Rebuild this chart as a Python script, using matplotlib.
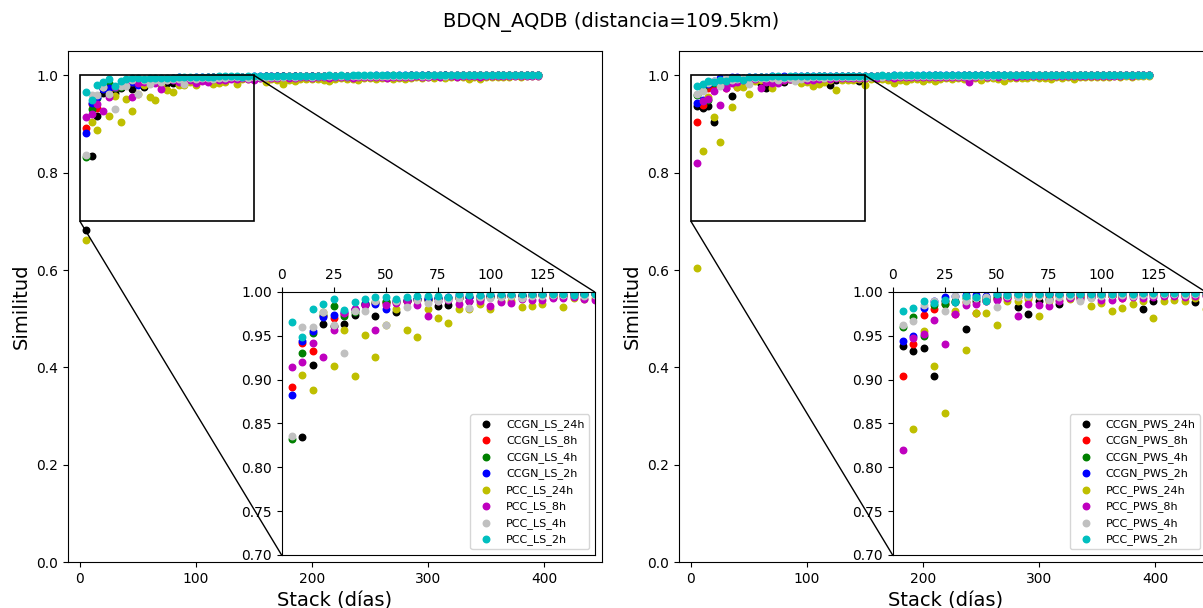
import numpy as np
import matplotlib
matplotlib.use("Agg")
from matplotlib import pyplot as plt
from matplotlib.patches import ConnectionPatch

# stack lengths in days (one point every 5 days)
stack_days = np.arange(5, 400, 5)

colors = ["k", "r", "g", "b", "y", "m", "silver", "c"]
labels_ls = ["CCGN_LS_24h", "CCGN_LS_8h", "CCGN_LS_4h", "CCGN_LS_2h",
             "PCC_LS_24h", "PCC_LS_8h", "PCC_LS_4h", "PCC_LS_2h"]
labels_pws = ["CCGN_PWS_24h", "CCGN_PWS_8h", "CCGN_PWS_4h", "CCGN_PWS_2h",
              "PCC_PWS_24h", "PCC_PWS_8h", "PCC_PWS_4h", "PCC_PWS_2h"]

# ---- LS panel ----
ccgn_ls_24h = [0.682, 0.834, 0.917, 0.963, 0.961, 0.963, 0.974, 0.985, 0.972, 0.988,
               0.977, 0.990, 0.992, 0.991, 0.984, 0.985, 0.993, 0.989, 0.992, 0.994,
               0.994, 0.995, 0.995, 0.995, 0.996, 0.996, 0.996, 0.997, 0.996, 0.997,
               0.997, 0.998, 0.997, 0.998, 0.998, 0.997, 0.998, 0.998, 0.998, 0.999,
               0.998, 0.998, 0.999, 0.998, 0.999, 0.999, 0.998, 0.999, 0.999, 0.999,
               0.999, 0.999, 0.998, 0.999, 0.999, 0.999, 0.999, 0.999, 0.999, 0.999,
               0.999, 0.999, 1.000, 0.999, 0.999, 1.000, 0.999, 1.000, 1.000, 0.999,
               1.000, 1.000, 1.000, 1.000, 1.000, 1.000, 1.000, 1.000, 1.000]
ccgn_ls_8h = [0.891, 0.942, 0.933, 0.973, 0.970, 0.975, 0.980, 0.986, 0.987, 0.987,
              0.988, 0.990, 0.991, 0.992, 0.993, 0.993, 0.993, 0.994, 0.994, 0.995,
              0.995, 0.995, 0.996, 0.996, 0.996, 0.994, 0.996, 0.995, 0.997, 0.997,
              0.997, 0.997, 0.998, 0.997, 0.998, 0.998, 0.998, 0.997, 0.998, 0.998,
              0.998, 0.999, 0.998, 0.998, 0.999, 0.999, 0.999, 0.998, 0.999, 0.999,
              0.999, 0.999, 0.999, 0.999, 0.999, 0.999, 1.000, 0.999, 0.999, 1.000,
              0.999, 1.000, 1.000, 0.999, 1.000, 1.000, 1.000, 1.000, 1.000, 1.000,
              1.000, 1.000, 1.000, 1.000, 1.000, 1.000, 1.000, 1.000, 1.000]
ccgn_ls_4h = [0.832, 0.930, 0.953, 0.974, 0.984, 0.973, 0.977, 0.987, 0.988, 0.989,
              0.990, 0.991, 0.992, 0.992, 0.993, 0.993, 0.994, 0.994, 0.995, 0.995,
              0.995, 0.996, 0.996, 0.996, 0.996, 0.997, 0.995, 0.997, 0.997, 0.997,
              0.997, 0.998, 0.997, 0.998, 0.998, 0.998, 0.998, 0.998, 0.999, 0.998,
              0.998, 0.999, 0.999, 0.998, 0.999, 0.999, 0.999, 0.999, 0.999, 0.999,
              0.999, 0.999, 0.999, 1.000, 0.999, 0.999, 1.000, 0.999, 1.000, 1.000,
              1.000, 0.999, 1.000, 1.000, 1.000, 1.000, 1.000, 1.000, 1.000, 1.000,
              1.000, 1.000, 1.000, 1.000, 1.000, 1.000, 1.000, 1.000, 1.000]
ccgn_ls_2h = [0.882, 0.944, 0.955, 0.971, 0.974, 0.977, 0.980, 0.986, 0.986, 0.981,
              0.990, 0.991, 0.992, 0.993, 0.993, 0.994, 0.996, 0.994, 0.995, 0.996,
              0.996, 0.996, 0.996, 0.997, 0.997, 0.997, 0.997, 0.997, 0.997, 0.998,
              0.998, 0.998, 0.998, 0.998, 0.998, 0.998, 0.999, 0.998, 0.999, 0.999,
              0.999, 0.999, 0.999, 0.999, 0.999, 0.999, 0.999, 0.999, 0.999, 0.999,
              1.000, 0.999, 1.000, 0.999, 1.000, 1.000, 1.000, 1.000, 1.000, 1.000,
              1.000, 1.000, 1.000, 1.000, 1.000, 1.000, 1.000, 1.000, 1.000, 1.000,
              1.000, 1.000, 1.000, 1.000, 1.000, 1.000, 1.000, 1.000, 1.000]
pcc_ls_24h = [0.662, 0.905, 0.888, 0.977, 0.916, 0.957, 0.904, 0.951, 0.926, 0.962,
              0.980, 0.956, 0.949, 0.980, 0.970, 0.965, 0.980, 0.981, 0.986, 0.980,
              0.990, 0.989, 0.983, 0.984, 0.986, 0.994, 0.983, 0.993, 0.992, 0.993,
              0.994, 0.986, 0.992, 0.990, 0.982, 0.991, 0.988, 0.993, 0.992, 0.993,
              0.992, 0.991, 0.988, 0.993, 0.994, 0.993, 0.992, 0.990, 0.994, 0.994,
              0.993, 0.995, 0.994, 0.992, 0.995, 0.992, 0.995, 0.996, 0.995, 0.996,
              0.995, 0.996, 0.995, 0.996, 0.997, 0.996, 0.993, 0.997, 0.993, 0.996,
              0.997, 0.996, 0.997, 0.997, 0.998, 0.997, 0.998, 0.998, 0.998]
pcc_ls_8h = [0.914, 0.920, 0.942, 0.926, 0.956, 0.976, 0.981, 0.985, 0.956, 0.985,
             0.987, 0.989, 0.985, 0.972, 0.990, 0.991, 0.986, 0.990, 0.990, 0.984,
             0.988, 0.987, 0.992, 0.991, 0.991, 0.993, 0.993, 0.994, 0.992, 0.991,
             0.995, 0.996, 0.994, 0.995, 0.996, 0.995, 0.994, 0.996, 0.996, 0.995,
             0.996, 0.997, 0.995, 0.996, 0.997, 0.996, 0.995, 0.997, 0.996, 0.997,
             0.997, 0.996, 0.995, 0.997, 0.997, 0.996, 0.997, 0.998, 0.997, 0.996,
             0.998, 0.997, 0.998, 0.998, 0.997, 0.998, 0.998, 0.998, 0.997, 0.998,
             0.998, 0.999, 0.998, 0.999, 0.998, 0.999, 0.999, 0.999, 0.999]
pcc_ls_4h = [0.836, 0.960, 0.960, 0.977, 0.962, 0.930, 0.978, 0.978, 0.990, 0.962,
             0.990, 0.983, 0.991, 0.987, 0.990, 0.992, 0.993, 0.982, 0.994, 0.993,
             0.994, 0.995, 0.993, 0.995, 0.995, 0.996, 0.996, 0.996, 0.995, 0.996,
             0.997, 0.996, 0.997, 0.997, 0.997, 0.998, 0.997, 0.998, 0.998, 0.997,
             0.998, 0.998, 0.998, 0.999, 0.998, 0.998, 0.999, 0.999, 0.998, 0.999,
             0.999, 0.999, 0.999, 0.999, 0.999, 0.999, 0.999, 1.000, 0.999, 0.999,
             1.000, 1.000, 0.999, 1.000, 1.000, 1.000, 1.000, 1.000, 1.000, 1.000,
             1.000, 1.000, 1.000, 1.000, 1.000, 1.000, 1.000, 1.000, 1.000]
pcc_ls_2h = [0.966, 0.949, 0.980, 0.986, 0.992, 0.979, 0.988, 0.992, 0.994, 0.994,
             0.992, 0.994, 0.995, 0.995, 0.995, 0.994, 0.997, 0.996, 0.996, 0.997,
             0.997, 0.997, 0.997, 0.998, 0.998, 0.998, 0.998, 0.996, 0.998, 0.998,
             0.998, 0.999, 0.998, 0.999, 0.999, 0.999, 0.999, 0.999, 0.999, 0.999,
             0.999, 0.999, 1.000, 0.999, 1.000, 0.999, 1.000, 1.000, 1.000, 1.000,
             1.000, 1.000, 1.000, 1.000, 1.000, 1.000, 1.000, 1.000, 1.000, 1.000,
             1.000, 1.000, 1.000, 1.000, 1.000, 1.000, 1.000, 1.000, 1.000, 1.000,
             1.000, 1.000, 1.000, 1.000, 1.000, 1.000, 1.000, 1.000, 1.000]

# ---- PWS panel ----
ccgn_pws_24h = [0.938, 0.933, 0.936, 0.904, 0.990, 0.988, 0.958, 0.990, 0.992, 0.993,
                0.994, 0.983, 0.975, 0.990, 0.992, 0.986, 0.993, 0.994, 0.994, 0.995,
                0.995, 0.995, 0.996, 0.981, 0.990, 0.996, 0.996, 0.996, 0.988, 0.996,
                0.997, 0.997, 0.996, 0.997, 0.998, 0.997, 0.998, 0.998, 0.997, 0.998,
                0.998, 0.998, 0.999, 0.998, 0.998, 0.999, 0.998, 0.999, 0.999, 0.999,
                0.999, 0.999, 0.999, 0.999, 0.999, 0.999, 0.999, 1.000, 0.999, 0.999,
                1.000, 0.999, 1.000, 1.000, 1.000, 0.999, 1.000, 1.000, 1.000, 1.000,
                1.000, 1.000, 1.000, 1.000, 1.000, 1.000, 1.000, 1.000, 1.000]
ccgn_pws_8h = [0.904, 0.940, 0.974, 0.981, 0.986, 0.975, 0.988, 0.976, 0.990, 0.992,
               0.993, 0.994, 0.994, 0.995, 0.995, 0.995, 0.996, 0.995, 0.996, 0.996,
               0.995, 0.993, 0.996, 0.996, 0.996, 0.997, 0.997, 0.995, 0.997, 0.997,
               0.997, 0.998, 0.997, 0.998, 0.998, 0.998, 0.997, 0.998, 0.998, 0.999,
               0.998, 0.999, 0.999, 0.998, 0.999, 0.999, 0.999, 0.999, 0.999, 0.999,
               0.999, 0.999, 1.000, 0.999, 0.999, 1.000, 1.000, 0.999, 1.000, 1.000,
               1.000, 1.000, 1.000, 1.000, 1.000, 1.000, 1.000, 1.000, 1.000, 1.000,
               1.000, 1.000, 1.000, 1.000, 1.000, 1.000, 1.000, 1.000, 1.000]
ccgn_pws_4h = [0.960, 0.971, 0.950, 0.985, 0.986, 0.990, 0.993, 0.993, 0.994, 0.995,
               0.995, 0.996, 0.995, 0.996, 0.997, 0.996, 0.997, 0.997, 0.997, 0.998,
               0.997, 0.998, 0.998, 0.997, 0.998, 0.998, 0.998, 0.999, 0.998, 0.998,
               0.999, 0.998, 0.999, 0.999, 0.999, 0.999, 0.999, 0.999, 0.999, 0.999,
               0.999, 1.000, 0.999, 0.999, 1.000, 0.999, 1.000, 1.000, 1.000, 1.000,
               1.000, 1.000, 1.000, 1.000, 1.000, 1.000, 1.000, 1.000, 1.000, 1.000,
               1.000, 1.000, 1.000, 1.000, 1.000, 1.000, 1.000, 1.000, 1.000, 1.000,
               1.000, 1.000, 1.000, 1.000, 1.000, 1.000, 1.000, 1.000, 1.000]
ccgn_pws_2h = [0.944, 0.950, 0.982, 0.989, 0.994, 0.995, 0.996, 0.996, 0.995, 0.997,
               0.997, 0.997, 0.997, 0.998, 0.997, 0.998, 0.996, 0.998, 0.998, 0.998,
               0.998, 0.998, 0.999, 0.998, 0.999, 0.999, 0.998, 0.999, 0.999, 0.999,
               0.999, 0.999, 0.999, 0.999, 1.000, 0.999, 0.999, 1.000, 0.999, 1.000,
               1.000, 1.000, 1.000, 1.000, 1.000, 1.000, 1.000, 1.000, 1.000, 1.000,
               1.000, 1.000, 1.000, 1.000, 1.000, 1.000, 1.000, 1.000, 1.000, 1.000,
               1.000, 1.000, 1.000, 1.000, 1.000, 1.000, 1.000, 1.000, 1.000, 1.000,
               1.000, 1.000, 1.000, 1.000, 1.000, 1.000, 1.000, 1.000, 1.000]
pcc_pws_24h = [0.604, 0.844, 0.955, 0.915, 0.862, 0.978, 0.934, 0.976, 0.976, 0.962,
               0.989, 0.990, 0.992, 0.973, 0.990, 0.991, 0.992, 0.993, 0.984, 0.987,
               0.978, 0.982, 0.986, 0.990, 0.970, 0.990, 0.991, 0.990, 0.993, 0.980,
               0.993, 0.992, 0.993, 0.990, 0.985, 0.991, 0.988, 0.992, 0.993, 0.988,
               0.992, 0.989, 0.993, 0.994, 0.992, 0.994, 0.993, 0.995, 0.994, 0.990,
               0.994, 0.995, 0.993, 0.989, 0.994, 0.995, 0.994, 0.995, 0.996, 0.995,
               0.994, 0.992, 0.996, 0.995, 0.996, 0.993, 0.996, 0.997, 0.996, 0.997,
               0.996, 0.997, 0.998, 0.997, 0.998, 0.997, 0.998, 0.998, 0.998]
pcc_pws_8h = [0.820, 0.947, 0.952, 0.968, 0.940, 0.975, 0.985, 0.986, 0.990, 0.991,
              0.993, 0.973, 0.986, 0.985, 0.984, 0.990, 0.993, 0.992, 0.994, 0.991,
              0.991, 0.993, 0.994, 0.993, 0.994, 0.995, 0.995, 0.994, 0.995, 0.995,
              0.996, 0.995, 0.996, 0.996, 0.995, 0.996, 0.997, 0.996, 0.996, 0.997,
              0.997, 0.996, 0.997, 0.997, 0.996, 0.997, 0.997, 0.986, 0.997, 0.998,
              0.997, 0.998, 0.997, 0.998, 0.998, 0.997, 0.998, 0.998, 0.998, 0.998,
              0.999, 0.998, 0.998, 0.999, 0.998, 0.999, 0.999, 0.999, 0.999, 0.999,
              0.999, 0.999, 0.999, 0.999, 1.000, 0.999, 1.000, 1.000, 1.000]
pcc_pws_4h = [0.962, 0.967, 0.985, 0.989, 0.978, 0.995, 0.990, 0.993, 0.994, 0.983,
              0.995, 0.994, 0.995, 0.995, 0.991, 0.994, 0.995, 0.989, 0.993, 0.995,
              0.996, 0.996, 0.995, 0.996, 0.996, 0.997, 0.997, 0.996, 0.997, 0.997,
              0.997, 0.998, 0.997, 0.998, 0.998, 0.998, 0.998, 0.998, 0.998, 0.999,
              0.998, 0.999, 0.999, 0.999, 0.999, 0.999, 0.999, 0.999, 0.999, 0.999,
              0.999, 0.999, 1.000, 0.999, 1.000, 1.000, 1.000, 1.000, 1.000, 1.000,
              1.000, 1.000, 1.000, 1.000, 1.000, 1.000, 1.000, 1.000, 1.000, 1.000,
              1.000, 1.000, 1.000, 1.000, 1.000, 1.000, 1.000, 1.000, 1.000]
pcc_pws_2h = [0.978, 0.982, 0.989, 0.987, 0.991, 0.988, 0.995, 0.994, 0.990, 0.997,
              0.996, 0.997, 0.997, 0.998, 0.998, 0.997, 0.998, 0.998, 0.998, 0.998,
              0.998, 0.999, 0.998, 0.999, 0.999, 0.999, 0.999, 0.999, 0.999, 0.999,
              0.999, 0.999, 1.000, 0.999, 1.000, 1.000, 1.000, 1.000, 1.000, 1.000,
              1.000, 1.000, 1.000, 1.000, 1.000, 1.000, 1.000, 1.000, 1.000, 1.000,
              1.000, 1.000, 1.000, 1.000, 1.000, 1.000, 1.000, 1.000, 1.000, 1.000,
              1.000, 1.000, 1.000, 1.000, 1.000, 1.000, 1.000, 1.000, 1.000, 1.000,
              1.000, 1.000, 1.000, 1.000, 1.000, 1.000, 1.000, 1.000, 1.000]

series_ls = [ccgn_ls_24h, ccgn_ls_8h, ccgn_ls_4h, ccgn_ls_2h,
             pcc_ls_24h, pcc_ls_8h, pcc_ls_4h, pcc_ls_2h]
series_pws = [ccgn_pws_24h, ccgn_pws_8h, ccgn_pws_4h, ccgn_pws_2h,
              pcc_pws_24h, pcc_pws_8h, pcc_pws_4h, pcc_pws_2h]

# zoom window: days 0-150, similarity 0.70-1.00
zoom_x = (0, 150)
zoom_y = (0.70, 1.00)


def draw_panel(fig, rect, series, labels):
    ax = fig.add_axes(rect)
    axins = ax.inset_axes([0.4, 0.0137, 0.586, 0.515])
    for vals, color, label in zip(series, colors, labels):
        ax.scatter(stack_days, vals, s=22, color=color)
        axins.scatter(stack_days, vals, s=22, color=color, label=label)

    ax.set_xlim(-10.3, 450)
    ax.set_ylim(0, 1.05)
    ax.set_xticks([0, 100, 200, 300, 400])
    ax.set_yticks([0.0, 0.2, 0.4, 0.6, 0.8, 1.0])
    ax.set_xlabel("Stack (días)", fontsize=14)
    ax.set_ylabel("Similitud", fontsize=14)

    # zoomed view of the first 150 days
    axins.set_xlim(*zoom_x)
    axins.set_ylim(*zoom_y)
    axins.set_xticks([0, 25, 50, 75, 100, 125])
    axins.set_yticks([0.70, 0.75, 0.80, 0.85, 0.90, 0.95, 1.00])
    axins.yaxis.set_major_formatter("{x:.2f}")
    axins.xaxis.tick_top()
    axins.legend(loc="lower right", fontsize=8)

    # rectangle + the two connector lines (lower-left and upper-right)
    ax.indicate_inset([zoom_x[0], zoom_y[0], zoom_x[1] - zoom_x[0], zoom_y[1] - zoom_y[0]],
                      edgecolor="black", alpha=1, linewidth=1.2)
    for corner, point in [((0, 0), (zoom_x[0], zoom_y[0])), ((1, 1), (zoom_x[1], zoom_y[1]))]:
        con = ConnectionPatch(xyA=corner, coordsA=axins.transAxes,
                              xyB=point, coordsB=ax.transData,
                              color="black", linewidth=1)
        ax.add_artist(con)
    return ax


fig = plt.figure(figsize=(12.03, 6.08), dpi=100)
draw_panel(fig, [68 / 1203, 46 / 608, 534 / 1203, 511 / 608], series_ls, labels_ls)
draw_panel(fig, [679 / 1203, 46 / 608, 534 / 1203, 511 / 608], series_pws, labels_pws)
fig.suptitle("BDQN_AQDB (distancia=109.5km)", fontsize=14, x=611 / 1203)

fig.savefig("out.png", dpi=100)
